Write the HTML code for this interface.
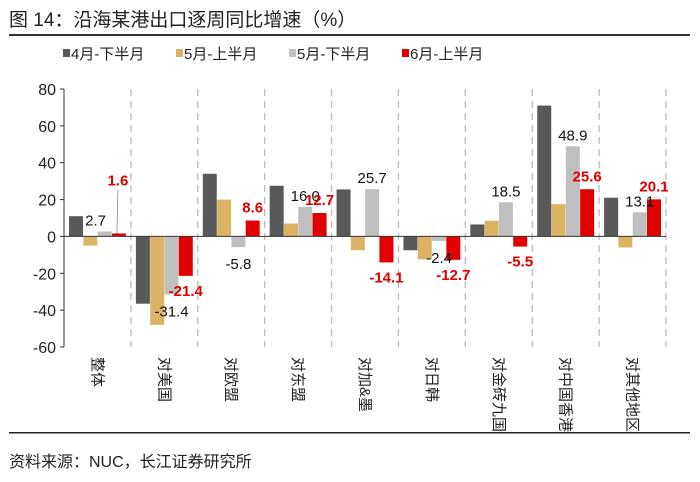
<!DOCTYPE html>
<html><head><meta charset="utf-8"><style>
body{margin:0;background:#fff;width:700px;height:477px;overflow:hidden;font-family:"Liberation Sans","Noto Sans CJK SC",sans-serif}
</style></head><body>
<svg width="700" height="477" xmlns="http://www.w3.org/2000/svg" font-family="Liberation Sans, Noto Sans CJK SC, sans-serif">
<text x="9" y="26" font-size="19" fill="#222">图  14：沿海某港出口逐周同比增速（%）</text>
<rect x="9" y="34" width="681" height="2" fill="#333"/>
<g id="legend"></g>
<g id="plot"></g>
<rect x="9" y="432" width="681" height="1.5" fill="#222"/>
<text x="9" y="467" font-size="16" fill="#222">资料来源：NUC，长江证券研究所</text>
</svg>
<script>
const categories=["整体","对美国","对欧盟","对东盟","对加&墨","对日韩","对金砖九国","对中国香港","对其他地区"];
const seriesNames=["4月-下半月","5月-上半月","5月-下半月","6月-上半月"];
const apr2=[11,-36.5,34,27.5,25.5,-7.5,6.5,71,21];
const may1=[-5,-48,20,7,-7.5,-12.5,8.5,17.5,-6];
const may2=[2.7,-31.4,-5.8,16.0,25.7,-2.4,18.5,48.9,13.1];
const jun1=[1.6,-21.4,8.6,12.7,-14.1,-12.7,-5.5,25.6,20.1];
const yTicks=[80,60,40,20,0,-20,-40,-60];
const colors=["#595959","#dbb365","#bfbfbf","#e00000"];
const NS="http://www.w3.org/2000/svg";
const x0=64,x1=666,yTop=89,yBot=347,vMax=80,vMin=-60;
const bw=(x1-x0)/categories.length;
function y(v){return yTop+(vMax-v)*(yBot-yTop)/(vMax-vMin);}
function xb(i,s){return x0+i*bw+5+s*14.3;}
function mk(tag,attrs,parent){const e=document.createElementNS(NS,tag);for(const k in attrs)e.setAttribute(k,attrs[k]);parent.appendChild(e);return e;}
const plot=document.getElementById('plot');
const ax=mk('line',{x1:x0,y1:yTop,x2:x0,y2:yBot,stroke:'#333','stroke-width':1},plot);


yTicks.forEach(t=>{
 const tk=mk('line',{x1:x0-4,y1:y(t),x2:x0,y2:y(t),stroke:'#333'},plot);
 
 
 const tl=mk('text',{x:x0-8,y:y(t)+6,'font-size':16,'text-anchor':'end',fill:'#222'},plot);
 tl.textContent=t;
 
 
});
for(let i=1;i<=categories.length;i++){
 const sx=x0+i*bw;
 const d=mk('line',{x1:sx,y1:yTop,x2:sx,y2:yBot,stroke:'#bbb','stroke-width':1.3,'stroke-dasharray':'7,5'},plot);
 
 
}
const series=[apr2,may1,may2,jun1];
series.forEach((arr,s)=>{
 arr.forEach((v,i)=>{
  const r=mk('rect',{x:xb(i,s),y:Math.min(y(v),y(0)),width:14,height:Math.abs(y(v)-y(0)),fill:colors[s]},plot);
  
  
 });
});
const z=mk('line',{x1:x0,y1:y(0),x2:x1,y2:y(0),stroke:'#333','stroke-width':1},plot);


may2.forEach((v,i)=>{
 const cx=xb(i,2)+(i===0?-2:7);
 const ty=v>=0?y(v)-6:y(v)+22;
 const t=mk('text',{x:cx,y:ty,'font-size':15,'text-anchor':'middle',fill:'#111'},plot);
 t.textContent=v.toFixed(1);
 
 
});
jun1.forEach((v,i)=>{
 let cx=xb(i,3)+7;
 let ty=v>=0?y(v)-8:y(v)+20;
 if(i===0){
  ty=y(v)-48;cx=cx-1;
  const ll=mk('line',{x1:cx,y1:ty+4,x2:cx-1,y2:y(v),stroke:'#888','stroke-width':0.8},plot);
  
  
 }
 const t=mk('text',{x:cx,y:ty,'font-size':15,'font-weight':'bold','text-anchor':'middle',fill:'#e00000'},plot);
 t.textContent=v.toFixed(1);
 
 
});
categories.forEach((c,i)=>{
 const cx=x0+(i+0.5)*bw-5;
 const t=mk('text',{x:cx,y:357,'font-size':15,fill:'#222',transform:'rotate(90 '+cx+' 357)'},plot);
 t.textContent=c;
 
 
});
const lg=document.getElementById('legend');
const lx=[63,176,289,402];
seriesNames.forEach((n,s)=>{
 const r=mk('rect',{x:lx[s],y:49,width:7,height:8,fill:colors[s]},lg);
 
 
 const t=mk('text',{x:lx[s]+8,y:59,'font-size':15,fill:'#222'},lg);
 t.textContent=n;
 
 
});
</script>
</body></html>
